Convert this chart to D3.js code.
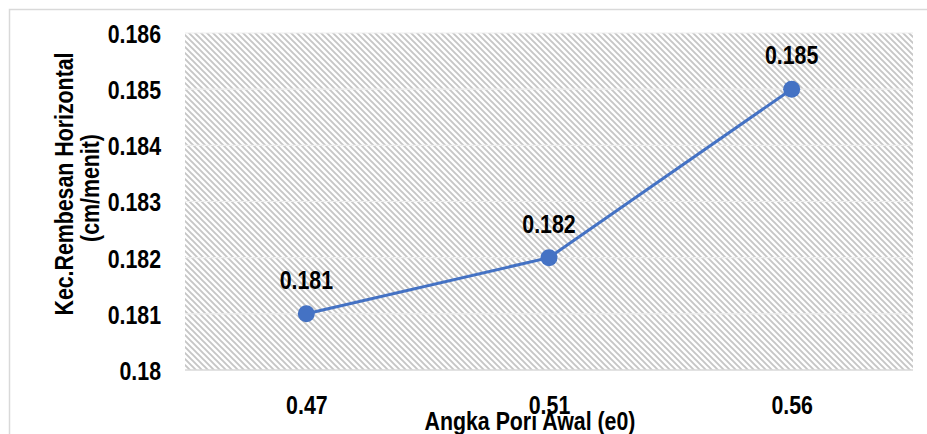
<!DOCTYPE html>
<html>
<head>
<meta charset="utf-8">
<script src="https://cdn.jsdelivr.net/npm/d3@7"></script>
<style>
  html, body { margin: 0; padding: 0; background: #fff; }
  svg text { font-family: "Liberation Sans Narrow", "Arial Narrow", "Liberation Sans", Arial, sans-serif; font-weight: bold; fill: #000; }
</style>
</head>
<body>
<svg id="chart" width="927" height="434"></svg>
<script>
// Seepage velocity against initial void ratio
const categories = ["0.47", "0.51", "0.56"];
const seepage = [0.181, 0.182, 0.185];
const pointLabels = ["0.181", "0.182", "0.185"];
const yTickValues = [0.18, 0.181, 0.182, 0.183, 0.184, 0.185, 0.186];
const yTickLabels = ["0.18", "0.181", "0.182", "0.183", "0.184", "0.185", "0.186"];
const yTitleLines = ["Kec.Rembesan Horizontal", "(cm/menit)"];
const xTitle = "Angka Pori Awal (e0)";

const W = 927, H = 434;
const plot = { left: 185, right: 913, top: 33, bottom: 370 };
const fontSize = 26;

const svg = d3.select("#chart");

// hatch fill for the plot area
const defs = svg.append("defs");
const pat = defs.append("pattern")
  .attr("id", "hatch")
  .attr("patternUnits", "userSpaceOnUse")
  .attr("width", 6).attr("height", 6);
pat.append("rect").attr("width", 6).attr("height", 6).attr("fill", "#ffffff");
pat.append("path")
  .attr("d", "M-3,-3 L9,9 M-3,3 L3,9 M3,-3 L9,3")
  .attr("stroke", "#c6c6c6")
  .attr("stroke-width", 1.9);

// chart frame
svg.append("rect")
  .attr("x", 9.5).attr("y", 9.5)
  .attr("width", W + 20).attr("height", H + 20)
  .attr("fill", "none")
  .attr("stroke", "#d9d9d9")
  .attr("stroke-width", 1.5);

const x = d3.scalePoint().domain(categories).range([plot.left, plot.right]).padding(0.5);
const y = d3.scaleLinear().domain([0.18, 0.186]).range([plot.bottom, plot.top]);

svg.append("rect")
  .attr("x", plot.left).attr("y", plot.top)
  .attr("width", plot.right - plot.left).attr("height", plot.bottom - plot.top)
  .attr("fill", "url(#hatch)");

// horizontal gridlines
svg.append("g")
  .selectAll("line")
  .data(yTickValues.slice(1))
  .join("line")
  .attr("x1", plot.left).attr("x2", plot.right)
  .attr("y1", d => y(d)).attr("y2", d => y(d))
  .attr("stroke", "#eeeeee")
  .attr("stroke-width", 1.2);

// x axis line
svg.append("line")
  .attr("x1", plot.left).attr("x2", plot.right)
  .attr("y1", plot.bottom).attr("y2", plot.bottom)
  .attr("stroke", "#d9d9d9").attr("stroke-width", 1.5);

// y axis
const yAxis = d3.axisLeft(y)
  .tickValues(yTickValues)
  .tickFormat((d, i) => yTickLabels[i])
  .tickSize(0)
  .tickPadding(0);
const gy = svg.append("g").attr("transform", `translate(${plot.left - 24},0)`).call(yAxis);
gy.select(".domain").remove();
gy.selectAll("text")
  .attr("font-size", fontSize)
  .attr("dy", "0.36em")
  .style("font-family", null);

// x axis
const xAxis = d3.axisBottom(x).tickSize(0).tickPadding(0);
const gx = svg.append("g").attr("transform", `translate(0,${plot.bottom + 44})`).call(xAxis);
gx.select(".domain").remove();
gx.selectAll("text")
  .attr("font-size", fontSize)
  .attr("dy", 0)
  .attr("y", 0);

// series line and markers
const line = d3.line().x((d, i) => x(categories[i])).y(d => y(d));
svg.append("path")
  .datum(seepage)
  .attr("d", line)
  .attr("fill", "none")
  .attr("stroke", "#4472c4")
  .attr("stroke-width", 3);

svg.append("g")
  .selectAll("circle")
  .data(seepage)
  .join("circle")
  .attr("cx", (d, i) => x(categories[i]))
  .attr("cy", d => y(d))
  .attr("r", 8.5)
  .attr("fill", "#4472c4");

// value labels
svg.append("g")
  .selectAll("text")
  .data(seepage)
  .join("text")
  .attr("x", (d, i) => x(categories[i]))
  .attr("y", d => y(d) - 25)
  .attr("text-anchor", "middle")
  .attr("font-size", fontSize)
  .text((d, i) => pointLabels[i]);

// axis titles
svg.append("text")
  .attr("transform", "translate(73,184) rotate(-90)")
  .attr("text-anchor", "middle")
  .attr("font-size", fontSize)
  .text(yTitleLines[0]);
svg.append("text")
  .attr("transform", "translate(98.5,188) rotate(-90)")
  .attr("text-anchor", "middle")
  .attr("font-size", fontSize)
  .text(yTitleLines[1]);

svg.append("text")
  .attr("x", 530).attr("y", 430)
  .attr("text-anchor", "middle")
  .attr("font-size", fontSize)
  .text(xTitle);

// condense the text if no narrow face is available
const probe = svg.append("text").attr("font-size", fontSize).text("0.186");
const probeW = probe.node().getComputedTextLength();
probe.remove();
if (probeW > 58) {
  svg.selectAll("text").each(function () {
    const w = this.getComputedTextLength();
    d3.select(this).attr("textLength", w * 0.82).attr("lengthAdjust", "spacingAndGlyphs");
  });
}
</script>
</body>
</html>
